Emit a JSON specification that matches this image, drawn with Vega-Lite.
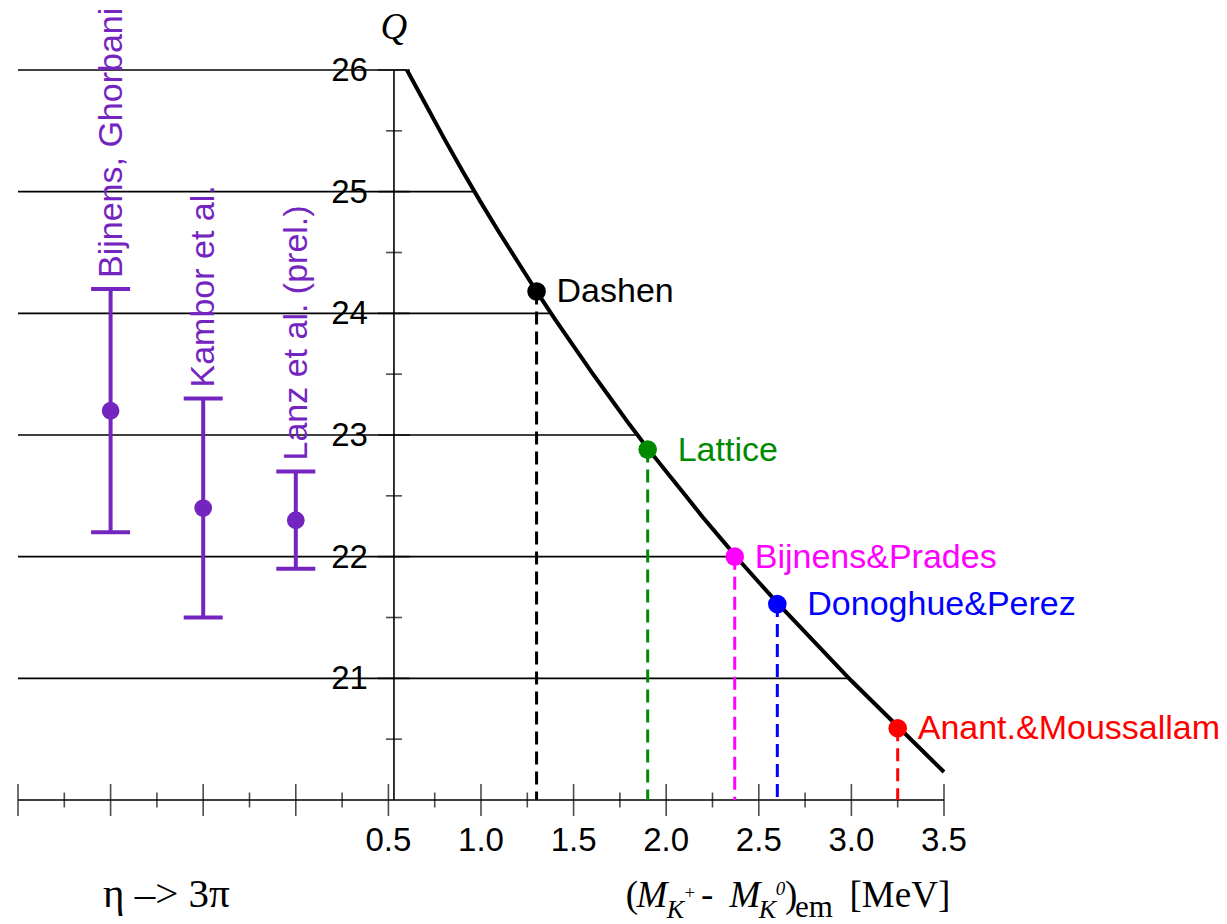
{
  "$schema": "https://vega.github.io/schema/vega-lite/v6.json",
  "width": 926,
  "height": 730,
  "autosize": {"type": "none"},
  "padding": {"left": 18, "top": 70, "right": 283, "bottom": 124},
  "background": "white",
  "config": {"view": {"stroke": null}, "font": "Liberation Sans"},
  "data": {"values": [{}]},
  "datasets": {
    "curve": [
      {"x": 0.6, "q": 26.00}, {"x": 0.7, "q": 25.72}, {"x": 0.8, "q": 25.44}, {"x": 0.9, "q": 25.17},
      {"x": 1.0, "q": 24.91}, {"x": 1.1, "q": 24.66}, {"x": 1.2, "q": 24.42}, {"x": 1.3, "q": 24.18},
      {"x": 1.4, "q": 23.95}, {"x": 1.5, "q": 23.73}, {"x": 1.6, "q": 23.51}, {"x": 1.7, "q": 23.30},
      {"x": 1.8, "q": 23.09}, {"x": 1.9, "q": 22.89}, {"x": 2.0, "q": 22.70}, {"x": 2.1, "q": 22.51},
      {"x": 2.2, "q": 22.32}, {"x": 2.3, "q": 22.14}, {"x": 2.4, "q": 21.96}, {"x": 2.5, "q": 21.79},
      {"x": 2.6, "q": 21.62}, {"x": 2.7, "q": 21.46}, {"x": 2.8, "q": 21.30}, {"x": 2.9, "q": 21.14},
      {"x": 3.0, "q": 20.98}, {"x": 3.1, "q": 20.83}, {"x": 3.2, "q": 20.68}, {"x": 3.3, "q": 20.53},
      {"x": 3.4, "q": 20.38}, {"x": 3.5, "q": 20.23}
    ],
    "estimates": [
      {"name": "Dashen", "x": 1.3, "q": 24.18},
      {"name": "Lattice", "x": 1.9, "q": 22.88},
      {"name": "Bijnens&Prades", "x": 2.37, "q": 22.0},
      {"name": "Donoghue&Perez", "x": 2.6, "q": 21.61},
      {"name": "Anant.&Moussallam", "x": 3.25, "q": 20.59}
    ],
    "grid": [
      {"q": 26, "xEnd": 0.6}, {"q": 25, "xEnd": 0.97}, {"q": 24, "xEnd": 1.38},
      {"q": 23, "xEnd": 1.85}, {"q": 22, "xEnd": 2.37}, {"q": 21, "xEnd": 2.99}
    ],
    "eta": [
      {"name": "Bijnens, Ghorbani", "x": -1.0, "q": 23.2, "lo": 22.2, "hi": 24.2},
      {"name": "Kambor et al.", "x": -0.5, "q": 22.4, "lo": 21.5, "hi": 23.3},
      {"name": "Lanz et al. (prel.)", "x": 0.0, "q": 22.3, "lo": 21.9, "hi": 22.7}
    ],
    "xticks": [
      {"v": -1.5, "major": true}, {"v": -1.25, "major": false}, {"v": -1.0, "major": true}, {"v": -0.75, "major": false},
      {"v": -0.5, "major": true}, {"v": -0.25, "major": false}, {"v": 0.0, "major": true}, {"v": 0.25, "major": false},
      {"v": 0.5, "major": true}, {"v": 0.75, "major": false}, {"v": 1.0, "major": true}, {"v": 1.25, "major": false},
      {"v": 1.5, "major": true}, {"v": 1.75, "major": false}, {"v": 2.0, "major": true}, {"v": 2.25, "major": false},
      {"v": 2.5, "major": true}, {"v": 2.75, "major": false}, {"v": 3.0, "major": true}, {"v": 3.25, "major": false},
      {"v": 3.5, "major": true}
    ],
    "yticks": [
      {"v": 20.5, "major": false}, {"v": 21, "major": true}, {"v": 21.5, "major": false}, {"v": 22, "major": true},
      {"v": 22.5, "major": false}, {"v": 23, "major": true}, {"v": 23.5, "major": false}, {"v": 24, "major": true},
      {"v": 24.5, "major": false}, {"v": 25, "major": true}, {"v": 25.5, "major": false}, {"v": 26, "major": true}
    ]
  },
  "layer": [
    {
      "data": {"name": "grid"},
      "mark": {"type": "rule", "color": "#000", "strokeWidth": 1.6},
      "encoding": {
        "x": {"field": "xEnd", "type": "quantitative", "scale": {"domain": [-1.5, 3.5], "nice": false, "zero": false}, "axis": null},
        "x2": {"datum": -1.5},
        "y": {"field": "q", "type": "quantitative", "scale": {"domain": [20, 26], "nice": false, "zero": false}, "axis": null}
      }
    },
    {
      "mark": {"type": "rule", "color": "#000", "strokeWidth": 1.6},
      "encoding": {
        "x": {"datum": -1.5, "type": "quantitative", "scale": {"domain": [-1.5, 3.5], "nice": false, "zero": false}, "axis": null},
        "x2": {"datum": 3.5},
        "y": {"datum": 20, "type": "quantitative", "scale": {"domain": [20, 26], "nice": false, "zero": false}, "axis": null}
      }
    },
    {
      "mark": {"type": "rule", "color": "#000", "strokeWidth": 1.6},
      "encoding": {
        "x": {"datum": 0.53, "type": "quantitative", "scale": {"domain": [-1.5, 3.5], "nice": false, "zero": false}, "axis": null},
        "y": {"datum": 20, "type": "quantitative", "scale": {"domain": [20, 26], "nice": false, "zero": false}, "axis": null},
        "y2": {"datum": 26}
      }
    },
    {
      "data": {"name": "xticks"},
      "transform": [{"filter": "datum.major"}],
      "mark": {"type": "tick", "orient": "vertical", "color": "#000", "size": 32, "thickness": 1.6},
      "encoding": {
        "x": {"field": "v", "type": "quantitative", "scale": {"domain": [-1.5, 3.5], "nice": false, "zero": false}, "axis": null},
        "y": {"datum": 20, "type": "quantitative", "scale": {"domain": [20, 26], "nice": false, "zero": false}, "axis": null}
      }
    },
    {
      "data": {"name": "xticks"},
      "transform": [{"filter": "!datum.major"}],
      "mark": {"type": "tick", "orient": "vertical", "color": "#000", "size": 15, "thickness": 1.6},
      "encoding": {
        "x": {"field": "v", "type": "quantitative", "scale": {"domain": [-1.5, 3.5], "nice": false, "zero": false}, "axis": null},
        "y": {"datum": 20, "type": "quantitative", "scale": {"domain": [20, 26], "nice": false, "zero": false}, "axis": null}
      }
    },
    {
      "data": {"name": "yticks"},
      "transform": [{"filter": "datum.major"}],
      "mark": {"type": "tick", "orient": "horizontal", "color": "#000", "size": 32, "thickness": 1.6},
      "encoding": {
        "x": {"datum": 0.53, "type": "quantitative", "scale": {"domain": [-1.5, 3.5], "nice": false, "zero": false}, "axis": null},
        "y": {"field": "v", "type": "quantitative", "scale": {"domain": [20, 26], "nice": false, "zero": false}, "axis": null}
      }
    },
    {
      "data": {"name": "yticks"},
      "transform": [{"filter": "!datum.major"}],
      "mark": {"type": "tick", "orient": "horizontal", "color": "#000", "size": 16, "thickness": 1.6},
      "encoding": {
        "x": {"datum": 0.53, "type": "quantitative", "scale": {"domain": [-1.5, 3.5], "nice": false, "zero": false}, "axis": null},
        "y": {"field": "v", "type": "quantitative", "scale": {"domain": [20, 26], "nice": false, "zero": false}, "axis": null}
      }
    },
    {
      "data": {"name": "xticks"},
      "transform": [{"filter": "datum.major && datum.v >= 0.5"}],
      "mark": {"type": "text", "fontSize": 33, "align": "center", "baseline": "alphabetic", "color": "#000"},
      "encoding": {
        "x": {"field": "v", "type": "quantitative", "scale": {"domain": [-1.5, 3.5], "nice": false, "zero": false}, "axis": null},
        "y": {"datum": 19.58, "type": "quantitative", "scale": {"domain": [20, 26], "nice": false, "zero": false}, "axis": null},
        "text": {"field": "v", "type": "quantitative", "format": ".1f"}
      }
    },
    {
      "data": {"name": "yticks"},
      "transform": [{"filter": "datum.major"}],
      "mark": {"type": "text", "fontSize": 33, "align": "right", "baseline": "middle", "dx": -26, "dy": 1, "color": "#000"},
      "encoding": {
        "x": {"datum": 0.53, "type": "quantitative", "scale": {"domain": [-1.5, 3.5], "nice": false, "zero": false}, "axis": null},
        "y": {"field": "v", "type": "quantitative", "scale": {"domain": [20, 26], "nice": false, "zero": false}, "axis": null},
        "text": {"field": "v", "type": "quantitative", "format": "d"}
      }
    },
    {
      "data": {"name": "estimates"},
      "mark": {"type": "rule", "strokeWidth": 3, "strokeDash": [13, 7]},
      "encoding": {
        "x": {"field": "x", "type": "quantitative", "scale": {"domain": [-1.5, 3.5], "nice": false, "zero": false}, "axis": null},
        "y": {"field": "q", "type": "quantitative", "scale": {"domain": [20, 26], "nice": false, "zero": false}, "axis": null},
        "y2": {"datum": 20},
        "color": {"field": "name", "type": "nominal", "legend": null,
          "scale": {"domain": ["Dashen", "Lattice", "Bijnens&Prades", "Donoghue&Perez", "Anant.&Moussallam"],
                    "range": ["#000000", "#008A00", "#FF00FF", "#0000FF", "#FF0000"]}}
      }
    },
    {
      "data": {"name": "curve"},
      "mark": {"type": "line", "color": "#000", "strokeWidth": 4},
      "encoding": {
        "x": {"field": "x", "type": "quantitative", "scale": {"domain": [-1.5, 3.5], "nice": false, "zero": false}, "axis": null},
        "y": {"field": "q", "type": "quantitative", "scale": {"domain": [20, 26], "nice": false, "zero": false}, "axis": null}
      }
    },
    {
      "data": {"name": "estimates"},
      "mark": {"type": "circle", "size": 346, "opacity": 1},
      "encoding": {
        "x": {"field": "x", "type": "quantitative", "scale": {"domain": [-1.5, 3.5], "nice": false, "zero": false}, "axis": null},
        "y": {"field": "q", "type": "quantitative", "scale": {"domain": [20, 26], "nice": false, "zero": false}, "axis": null},
        "color": {"field": "name", "type": "nominal", "legend": null}
      }
    },
    {
      "data": {"name": "estimates"},
      "transform": [{"filter": "datum.name !== 'Lattice' && datum.name !== 'Donoghue&Perez'"}],
      "mark": {"type": "text", "fontSize": 34, "align": "left", "baseline": "middle", "dx": 20, "dy": 1},
      "encoding": {
        "x": {"field": "x", "type": "quantitative", "scale": {"domain": [-1.5, 3.5], "nice": false, "zero": false}, "axis": null},
        "y": {"field": "q", "type": "quantitative", "scale": {"domain": [20, 26], "nice": false, "zero": false}, "axis": null},
        "text": {"field": "name", "type": "nominal"},
        "color": {"field": "name", "type": "nominal", "legend": null}
      }
    },
    {
      "data": {"name": "estimates"},
      "transform": [{"filter": "datum.name === 'Lattice' || datum.name === 'Donoghue&Perez'"}],
      "mark": {"type": "text", "fontSize": 34, "align": "left", "baseline": "middle", "dx": 30, "dy": 1},
      "encoding": {
        "x": {"field": "x", "type": "quantitative", "scale": {"domain": [-1.5, 3.5], "nice": false, "zero": false}, "axis": null},
        "y": {"field": "q", "type": "quantitative", "scale": {"domain": [20, 26], "nice": false, "zero": false}, "axis": null},
        "text": {"field": "name", "type": "nominal"},
        "color": {"field": "name", "type": "nominal", "legend": null}
      }
    },
    {
      "data": {"name": "eta"},
      "mark": {"type": "rule", "color": "#7425C0", "strokeWidth": 4},
      "encoding": {
        "x": {"field": "x", "type": "quantitative", "scale": {"domain": [-1.5, 3.5], "nice": false, "zero": false}, "axis": null},
        "y": {"field": "lo", "type": "quantitative", "scale": {"domain": [20, 26], "nice": false, "zero": false}, "axis": null},
        "y2": {"field": "hi"}
      }
    },
    {
      "data": {"name": "eta"},
      "mark": {"type": "tick", "orient": "horizontal", "color": "#7425C0", "size": 39, "thickness": 4, "opacity": 1},
      "encoding": {
        "x": {"field": "x", "type": "quantitative", "scale": {"domain": [-1.5, 3.5], "nice": false, "zero": false}, "axis": null},
        "y": {"field": "lo", "type": "quantitative", "scale": {"domain": [20, 26], "nice": false, "zero": false}, "axis": null}
      }
    },
    {
      "data": {"name": "eta"},
      "mark": {"type": "tick", "orient": "horizontal", "color": "#7425C0", "size": 39, "thickness": 4, "opacity": 1},
      "encoding": {
        "x": {"field": "x", "type": "quantitative", "scale": {"domain": [-1.5, 3.5], "nice": false, "zero": false}, "axis": null},
        "y": {"field": "hi", "type": "quantitative", "scale": {"domain": [20, 26], "nice": false, "zero": false}, "axis": null}
      }
    },
    {
      "data": {"name": "eta"},
      "mark": {"type": "circle", "color": "#7425C0", "size": 314, "opacity": 1},
      "encoding": {
        "x": {"field": "x", "type": "quantitative", "scale": {"domain": [-1.5, 3.5], "nice": false, "zero": false}, "axis": null},
        "y": {"field": "q", "type": "quantitative", "scale": {"domain": [20, 26], "nice": false, "zero": false}, "axis": null}
      }
    },
    {
      "data": {"name": "eta"},
      "mark": {"type": "text", "color": "#7425C0", "fontSize": 34, "angle": 270, "align": "left", "baseline": "middle", "dx": 11, "dy": 1},
      "encoding": {
        "x": {"field": "x", "type": "quantitative", "scale": {"domain": [-1.5, 3.5], "nice": false, "zero": false}, "axis": null},
        "y": {"field": "hi", "type": "quantitative", "scale": {"domain": [20, 26], "nice": false, "zero": false}, "axis": null},
        "text": {"field": "name", "type": "nominal"}
      }
    },
    {
      "mark": {"type": "text", "text": "Q", "font": "Liberation Serif", "fontStyle": "italic", "fontSize": 37, "align": "center", "baseline": "alphabetic", "color": "#000"},
      "encoding": {
        "x": {"datum": 0.53, "type": "quantitative", "scale": {"domain": [-1.5, 3.5], "nice": false, "zero": false}, "axis": null},
        "y": {"datum": 26.255, "type": "quantitative", "scale": {"domain": [20, 26], "nice": false, "zero": false}, "axis": null}
      }
    },
    {
      "mark": {"type": "text", "text": "η –> 3π", "font": "Liberation Serif", "fontSize": 41, "align": "left", "baseline": "alphabetic", "color": "#000"},
      "encoding": {
        "x": {"datum": -1.041, "type": "quantitative", "scale": {"domain": [-1.5, 3.5], "nice": false, "zero": false}, "axis": null},
        "y": {"datum": 19.121, "type": "quantitative", "scale": {"domain": [20, 26], "nice": false, "zero": false}, "axis": null}
      }
    },
    {
      "mark": {"type": "text", "text": "(", "font": "Liberation Serif", "fontSize": 37, "align": "left", "baseline": "alphabetic", "color": "#000"},
      "encoding": {
        "x": {"datum": 1.781, "type": "quantitative", "scale": {"domain": [-1.5, 3.5], "nice": false, "zero": false}, "axis": null},
        "y": {"datum": 19.121, "type": "quantitative", "scale": {"domain": [20, 26], "nice": false, "zero": false}, "axis": null}
      }
    },
    {
      "mark": {"type": "text", "text": "M", "font": "Liberation Serif", "fontStyle": "italic", "fontSize": 37, "align": "left", "baseline": "alphabetic", "color": "#000"},
      "encoding": {
        "x": {"datum": 1.84, "type": "quantitative", "scale": {"domain": [-1.5, 3.5], "nice": false, "zero": false}, "axis": null},
        "y": {"datum": 19.121, "type": "quantitative", "scale": {"domain": [20, 26], "nice": false, "zero": false}, "axis": null}
      }
    },
    {
      "mark": {"type": "text", "text": "K", "font": "Liberation Serif", "fontStyle": "italic", "fontSize": 26, "align": "left", "baseline": "alphabetic", "color": "#000"},
      "encoding": {
        "x": {"datum": 2.003, "type": "quantitative", "scale": {"domain": [-1.5, 3.5], "nice": false, "zero": false}, "axis": null},
        "y": {"datum": 19.03, "type": "quantitative", "scale": {"domain": [20, 26], "nice": false, "zero": false}, "axis": null}
      }
    },
    {
      "mark": {"type": "text", "text": "+", "font": "Liberation Serif", "fontSize": 18, "align": "left", "baseline": "alphabetic", "color": "#000"},
      "encoding": {
        "x": {"datum": 2.1, "type": "quantitative", "scale": {"domain": [-1.5, 3.5], "nice": false, "zero": false}, "axis": null},
        "y": {"datum": 19.19, "type": "quantitative", "scale": {"domain": [20, 26], "nice": false, "zero": false}, "axis": null}
      }
    },
    {
      "mark": {"type": "text", "text": "-", "font": "Liberation Serif", "fontSize": 37, "align": "left", "baseline": "alphabetic", "color": "#000"},
      "encoding": {
        "x": {"datum": 2.188, "type": "quantitative", "scale": {"domain": [-1.5, 3.5], "nice": false, "zero": false}, "axis": null},
        "y": {"datum": 19.121, "type": "quantitative", "scale": {"domain": [20, 26], "nice": false, "zero": false}, "axis": null}
      }
    },
    {
      "mark": {"type": "text", "text": "M", "font": "Liberation Serif", "fontStyle": "italic", "fontSize": 37, "align": "left", "baseline": "alphabetic", "color": "#000"},
      "encoding": {
        "x": {"datum": 2.342, "type": "quantitative", "scale": {"domain": [-1.5, 3.5], "nice": false, "zero": false}, "axis": null},
        "y": {"datum": 19.121, "type": "quantitative", "scale": {"domain": [20, 26], "nice": false, "zero": false}, "axis": null}
      }
    },
    {
      "mark": {"type": "text", "text": "K", "font": "Liberation Serif", "fontStyle": "italic", "fontSize": 26, "align": "left", "baseline": "alphabetic", "color": "#000"},
      "encoding": {
        "x": {"datum": 2.5, "type": "quantitative", "scale": {"domain": [-1.5, 3.5], "nice": false, "zero": false}, "axis": null},
        "y": {"datum": 19.03, "type": "quantitative", "scale": {"domain": [20, 26], "nice": false, "zero": false}, "axis": null}
      }
    },
    {
      "mark": {"type": "text", "text": "0", "font": "Liberation Serif", "fontStyle": "italic", "fontSize": 19, "align": "left", "baseline": "alphabetic", "color": "#000"},
      "encoding": {
        "x": {"datum": 2.592, "type": "quantitative", "scale": {"domain": [-1.5, 3.5], "nice": false, "zero": false}, "axis": null},
        "y": {"datum": 19.22, "type": "quantitative", "scale": {"domain": [20, 26], "nice": false, "zero": false}, "axis": null}
      }
    },
    {
      "mark": {"type": "text", "text": ")", "font": "Liberation Serif", "fontSize": 37, "align": "left", "baseline": "alphabetic", "color": "#000"},
      "encoding": {
        "x": {"datum": 2.642, "type": "quantitative", "scale": {"domain": [-1.5, 3.5], "nice": false, "zero": false}, "axis": null},
        "y": {"datum": 19.121, "type": "quantitative", "scale": {"domain": [20, 26], "nice": false, "zero": false}, "axis": null}
      }
    },
    {
      "mark": {"type": "text", "text": "em", "font": "Liberation Serif", "fontSize": 31, "align": "left", "baseline": "alphabetic", "color": "#000"},
      "encoding": {
        "x": {"datum": 2.696, "type": "quantitative", "scale": {"domain": [-1.5, 3.5], "nice": false, "zero": false}, "axis": null},
        "y": {"datum": 19.04, "type": "quantitative", "scale": {"domain": [20, 26], "nice": false, "zero": false}, "axis": null}
      }
    },
    {
      "mark": {"type": "text", "text": "[MeV]", "font": "Liberation Serif", "fontSize": 37, "align": "left", "baseline": "alphabetic", "color": "#000"},
      "encoding": {
        "x": {"datum": 2.99, "type": "quantitative", "scale": {"domain": [-1.5, 3.5], "nice": false, "zero": false}, "axis": null},
        "y": {"datum": 19.121, "type": "quantitative", "scale": {"domain": [20, 26], "nice": false, "zero": false}, "axis": null}
      }
    }
  ]
}
